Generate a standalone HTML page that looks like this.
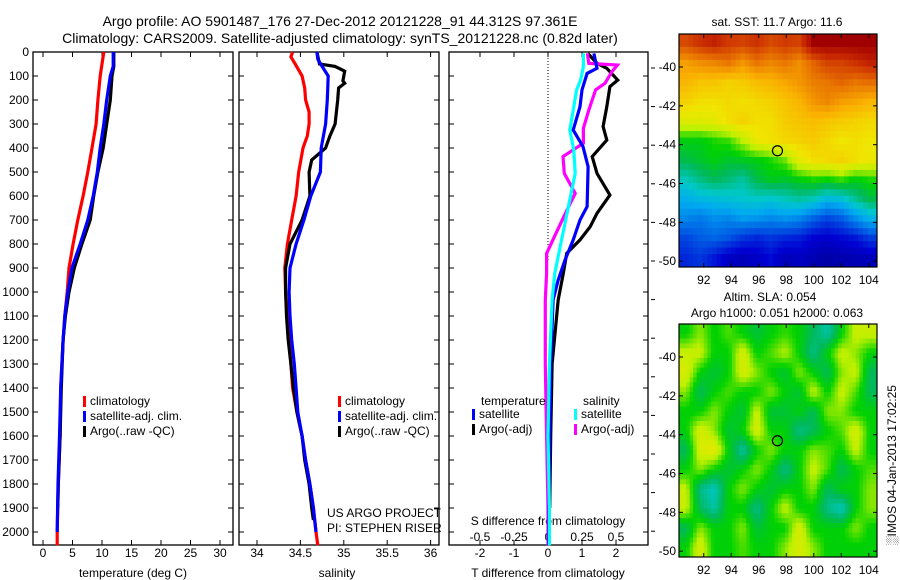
<!DOCTYPE html>
<html><head><meta charset="utf-8"><style>
body{margin:0;background:#fff;}
svg{display:block;font-family:"Liberation Sans",sans-serif;}
text{fill:#000;}
</style></head><body>
<svg id="fig" width="900" height="580" viewBox="0 0 900 580" xmlns="http://www.w3.org/2000/svg">
<rect width="900" height="580" fill="#fff"/>
<text x="340" y="26" font-size="14" text-anchor="middle">Argo profile: AO 5901487_176 27-Dec-2012 20121228_91 44.312S 97.361E</text>
<text x="340" y="43" font-size="14" text-anchor="middle">Climatology: CARS2009. Satellite-adjusted climatology: synTS_20121228.nc (0.82d later)</text>
<g id="maps"></g>
<g id="panels"></g>
</svg>
<script>
// ---------- DATA ----------
const depthTicks=[0,100,200,300,400,500,600,700,800,900,1000,1100,1200,1300,1400,1500,1600,1700,1800,1900,2000];
const tempTicks=[0,5,10,15,20,25,30];
const salTicks=[34,34.5,35,35.5,36];
const tdiffTicks=[-2,-1,0,1,2];
const sdiffTicks=[-0.5,-0.25,0,0.25,0.5];
const sdiffLabels=["-0.5","-0.25","0","0.25","0.5"];

const tClimDepth=[0,100,200,300,400,500,600,700,800,900,1000,1100,1200,1300,1400,1600,1800,2000,2055];
const tClimVal=[10.3,9.7,9.3,9.0,8.3,7.6,6.8,5.9,5.1,4.4,4.1,3.7,3.4,3.2,3.0,2.9,2.6,2.4,2.4];
const tSatDepth=[0,60,100,200,300,400,500,600,700,800,900,1000,1100,1200,1400,1600,1800,2000];
const tSatVal=[11.9,11.9,11.4,10.8,10.3,9.7,9.2,8.5,7.6,6.3,4.9,4.2,3.7,3.4,3.0,2.8,2.55,2.4];
const tArgoDepth=[0,60,100,200,300,400,500,600,700,800,900,1000,1100,1200,1400,1600,1800,1900];
const tArgoVal=[12.0,12.0,11.7,11.4,10.8,10.2,9.3,8.6,8.0,6.6,5.3,4.4,3.8,3.4,3.1,2.9,2.6,2.5];

const sClimDepth=[0,20,50,100,150,200,250,300,350,400,500,600,700,800,900,1000,1100,1200,1300,1400,1500,1600,1700,1800,1900,2000,2055];
const sClimVal=[34.41,34.39,34.44,34.52,34.55,34.56,34.60,34.60,34.58,34.53,34.48,34.45,34.40,34.35,34.32,34.33,34.35,34.37,34.39,34.41,34.46,34.52,34.56,34.61,34.65,34.68,34.70];
const sSatDepth=[0,30,60,100,200,300,400,500,600,700,800,900,1000,1100,1200,1300,1400,1500,1600,1700,1800,1900,2000];
const sSatVal=[34.69,34.70,34.75,34.82,34.81,34.79,34.74,34.73,34.62,34.54,34.45,34.38,34.37,34.38,34.40,34.43,34.45,34.47,34.52,34.56,34.61,34.65,34.68];
const sArgoDepth=[0,50,60,80,120,130,150,200,300,350,400,450,500,600,700,800,900,1000,1100,1200,1300,1400,1500,1600,1700,1800,1900,1950];
const sArgoVal=[34.69,34.72,34.90,35.01,34.99,35.01,34.94,34.93,34.90,34.84,34.79,34.63,34.60,34.61,34.52,34.38,34.33,34.33,34.34,34.36,34.39,34.42,34.46,34.52,34.55,34.60,34.63,34.65];

const dTSatDepth=[6,68,89,158,228,325,394,478,644,700,783,867,950,1033,1300,1600,1900,2055];
const dTSatVal=[1.35,1.44,1.15,1.0,0.94,0.74,1.03,1.18,1.15,0.94,0.74,0.5,0.3,0.15,0.08,0.05,0.03,0.02];
const dTArgoDepth=[6,47,68,117,144,228,311,367,436,506,596,672,728,783,839,922,1033,1300,1600,1900];
const dTArgoVal=[1.17,1.44,1.73,2.05,1.82,1.73,1.62,1.73,1.3,1.44,1.82,1.44,1.24,0.94,0.55,0.45,0.3,0.12,0.08,0.05];
const dSSatDepth=[6,61,117,158,228,325,408,506,644,728,811,922,1033,1300,1600,1900,2055];
const dSSatVal=[0.26,0.26,0.24,0.21,0.19,0.16,0.19,0.2,0.15,0.12,0.09,0.05,0.03,0.01,0.0,0.01,0.01];
const dSArgoDepth=[6,47,54,82,130,158,242,318,380,436,506,589,658,742,839,922,1033,1300,1600,1900,2055];
const dSArgoVal=[0.29,0.30,0.51,0.47,0.42,0.35,0.30,0.26,0.26,0.11,0.12,0.20,0.14,0.07,-0.01,-0.01,-0.02,-0.02,-0.01,0.0,0.0];

const lonTicks=[92,94,96,98,100,102,104];
const latTicks=[-40,-42,-44,-46,-48,-50];
const sstGrid=[
[14.5,14.8,15,14.7,14.6,14.8,14.5,14.7,14.6,15.5,15.5,15.5,15.5,15.5],
[13.5,13.7,13.8,14,13.6,14,13.8,14,13.7,14.2,14.6,14.6,14.8,15],
[13.2,13.0,13.0,12.8,12.9,13.1,13.2,13.4,13.6,13.9,14.0,14.2,14.0,14.1],
[12.8,12.6,12.6,12.7,12.6,12.7,12.8,13.0,13.2,13.6,13.8,13.5,13.4,13.2],
[12.2,12.2,12.3,12.6,12.8,12.6,12.6,12.9,13.0,13.1,13.0,12.9,12.8,12.7],
[11.0,11.0,11.2,11.3,11.8,12.4,12.6,12.7,12.8,12.9,12.7,12.5,12.6,12.5],
[10.6,10.8,11.0,10.8,10.9,11.0,11.2,11.5,12.3,12.6,12.7,12.8,12.6,12.4],
[9.8,10.2,10.5,10.3,10.0,10.6,10.9,10.8,11.0,11.2,11.1,11.3,11.0,11.2],
[9.1,9.3,9.4,9.5,9.6,9.7,9.6,9.8,10.0,9.8,9.3,9.5,10.1,10.6],
[8.5,8.3,8.6,8.5,8.8,8.7,8.5,8.7,8.5,8.0,7.6,7.9,8.6,9.2],
[7.6,7.9,8.0,7.8,7.4,7.2,7.4,7.2,7.1,6.7,6.6,6.8,7.0,7.5],
[7.2,7.4,7.0,6.5,6.3,6.5,6.8,6.3,6.4,6.2,6.0,6.1,6.2,6.3]];
const slaGrid=[
[0,5,0,3,0,-3,0,2,0,-5,-10,0,8,8],
[8,8,0,0,10,0,3,7,0,-8,0,8,5,0],
[10,0,-3,0,10,5,0,-3,5,0,-5,5,8,-5],
[5,-5,0,3,0,0,5,0,-3,8,0,8,3,-5],
[0,0,5,0,-3,8,-3,-3,0,-5,5,5,0,0],
[0,10,5,-3,0,10,0,0,-8,-5,0,3,10,0],
[-5,10,12,0,-10,0,5,0,0,5,3,0,8,0],
[0,5,0,-3,0,5,0,-8,0,8,3,-5,0,3],
[8,-8,-12,0,5,0,-3,0,0,5,-5,0,0,5],
[8,-5,-10,0,0,-8,0,8,0,0,-8,-12,0,5],
[-5,5,0,0,5,-3,0,0,10,0,0,0,5,0],
[0,10,0,0,3,0,0,5,10,5,0,0,0,0]];
const argoLon=97.361, argoLat=-44.312;

// ---------- HELPERS ----------
const NS="http://www.w3.org/2000/svg";
function mk(tag,attrs,parent,txt){const e=document.createElementNS(NS,tag);for(const k in attrs)e.setAttribute(k,attrs[k]);if(txt!==undefined)e.textContent=txt;parent.appendChild(e);return e;}
const P=document.getElementById('panels');
const TOP=52,BOT=545;
const yD=d=>TOP+d*0.24;
const xT=v=>43+5.9*v;
const xS=v=>257+86.8*(v-34);
const xDT=v=>548+34*v;
const xDS=v=>548+136*v;
function line(depths,vals,xf,color,name,w){
  const pts=depths.map((d,i)=>xf(vals[i]).toFixed(1)+","+yD(d).toFixed(1)).join(" ");
  const el=mk('polyline',{points:pts,fill:'none',stroke:color,'stroke-width':w||3.2,'stroke-linejoin':'miter'},P);
  
  
}
function frame(x0,x1,name){
  const r=mk('rect',{x:x0,y:TOP,width:x1-x0,height:BOT-TOP,fill:'none',stroke:'#000','stroke-width':1.3},P);
  
  
  depthTicks.forEach(d=>{mk('line',{x1:x0,x2:x0+5,y1:yD(d),y2:yD(d),stroke:'#000'},P);mk('line',{x1:x1-5,x2:x1,y1:yD(d),y2:yD(d),stroke:'#000'},P);});
}
function xticks(ticks,labels,xf,y,name){
  ticks.forEach((t,i)=>{
    mk('line',{x1:xf(t),x2:xf(t),y1:TOP,y2:TOP+5,stroke:'#000'},P);
    mk('line',{x1:xf(t),x2:xf(t),y1:BOT-5,y2:BOT,stroke:'#000'},P);
    const tx=mk('text',{x:xf(t),y:y,'font-size':12,'text-anchor':'middle'},P,labels[i]);
    
    
  });
}
function legend(x,y,items){
  items.forEach((it,i)=>{
    mk('rect',{x:x,y:y+i*15-9,width:3,height:11,fill:it[1]},P);
    const t=mk('text',{x:x+7,y:y+i*15,'font-size':12},P,it[0]);
    
    
  });
}

// ---------- PANEL 1: temperature ----------
frame(33,233,'temperature-panel');
depthTicks.forEach(d=>{const t=mk('text',{x:29,y:yD(d)+4,'font-size':12,'text-anchor':'end'},P,String(d));
  
  });
xticks(tempTicks,tempTicks.map(String),xT,557,'temperature');
mk('text',{x:133,y:577,'font-size':12,'text-anchor':'middle',},P,'temperature (deg C)');
line(tClimDepth,tClimVal,xT,'#f00','temp-climatology-line');
line(tArgoDepth,tArgoVal,xT,'#000','temp-argo-line');
line(tSatDepth,tSatVal,xT,'#00f','temp-satellite-line');
legend(83,405,[['climatology','#f00'],['satellite-adj. clim.','#00f'],['Argo(..raw -QC)','#000']]);

// ---------- PANEL 2: salinity ----------
frame(239,439,'salinity-panel');
xticks(salTicks,salTicks.map(String),xS,557,'salinity');
mk('text',{x:337,y:577,'font-size':12,'text-anchor':'middle',},P,'salinity');
line(sClimDepth,sClimVal,xS,'#f00','sal-climatology-line');
line(sArgoDepth,sArgoVal,xS,'#000','sal-argo-line');
line(sSatDepth,sSatVal,xS,'#00f','sal-satellite-line');
legend(338,405,[['climatology','#f00'],['satellite-adj. clim.','#00f'],['Argo(..raw -QC)','#000']]);
mk('text',{x:327,y:517,'font-size':12,},P,'US ARGO PROJECT');
mk('text',{x:327,y:532,'font-size':12,},P,'PI: STEPHEN RISER');

// ---------- PANEL 3: differences ----------
frame(449,648,'difference-panel');
mk('line',{x1:548,x2:548,y1:TOP,y2:260,stroke:'#000','stroke-dasharray':'1,2'},P);
xticks(tdiffTicks,tdiffTicks.map(String),xDT,557,'t-difference');
sdiffTicks.forEach((t,i)=>{const tx=mk('text',{x:xDS(t),y:541,'font-size':12,'text-anchor':'middle'},P,sdiffLabels[i]);
  
  });
mk('text',{x:548,y:525,'font-size':12,'text-anchor':'middle',},P,'S difference from climatology');
mk('text',{x:548,y:577,'font-size':12,'text-anchor':'middle',},P,'T difference from climatology');
for(let y=68;y<540;y+=38.6){mk('line',{x1:651,x2:655,y1:y,y2:y,stroke:'#000'},P);}
line(dTArgoDepth,dTArgoVal,xDT,'#000','tdiff-argo-line');
line(dSArgoDepth,dSArgoVal,xDS,'#f0f','sdiff-argo-line');
line(dTSatDepth,dTSatVal,xDT,'#00f','tdiff-satellite-line');
line(dSSatDepth,dSSatVal,xDS,'#0ff','sdiff-satellite-line');
mk('text',{x:481,y:405,'font-size':12,},P,'temperature');
mk('text',{x:583,y:405,'font-size':12,},P,'salinity');
legend(472,418,[['satellite','#00f'],['Argo(-adj)','#000']]);
legend(574,418,[['satellite','#0ff'],['Argo(-adj)','#f0f']]);

// ---------- MAPS ----------
const M=document.getElementById('maps');
const stops=[[0,[0,0,140]],[0.12,[0,0,210]],[0.25,[0,100,230]],[0.35,[0,170,240]],[0.42,[0,200,200]],[0.5,[0,185,90]],[0.56,[0,210,0]],[0.63,[190,240,0]],[0.7,[240,230,0]],[0.78,[250,175,0]],[0.86,[230,110,0]],[0.94,[200,40,0]],[1,[160,0,0]]];
function cmap(t){t=Math.max(0,Math.min(1,t));for(let i=1;i<stops.length;i++){if(t<=stops[i][0]){const a=stops[i-1],b=stops[i],f=(t-a[0])/(b[0]-a[0]);const c=a[1].map((v,k)=>Math.round(v+(b[1][k]-v)*f));return 'rgb('+c.join(',')+')';}}return 'rgb(160,0,0)';}
function sample(grid,fr,fc){
  const R=grid.length,C=grid[0].length;
  const r=Math.max(0,Math.min(R-1,fr)),c=Math.max(0,Math.min(C-1,fc));
  const r0=Math.floor(r),c0=Math.floor(c),r1=Math.min(R-1,r0+1),c1=Math.min(C-1,c0+1);
  const a=r-r0,b=c-c0;
  return grid[r0][c0]*(1-a)*(1-b)+grid[r0][c1]*(1-a)*b+grid[r1][c0]*a*(1-b)+grid[r1][c1]*a*b;
}
const lonMin=90.2,lonMax=104.6,latTop=-38.3,latBot=-50.3;
function drawMap(y0,y1,grid,tf,name,up){
  const x0=679,x1=877;
  const xl=l=>x0+(l-lonMin)/(lonMax-lonMin)*(x1-x0);
  const yl=l=>y0+(latTop-l)/(latTop-latBot)*(y1-y0);
  const g=mk('g',{},M);
  
  
  const rows=grid.length*up,cols=grid[0].length*up;
  const cw=(x1-x0)/cols,ch=(y1-y0)/rows;
  for(let r=0;r<rows;r++)for(let c=0;c<cols;c++){
    const v=sample(grid,(r+0.5)/up-0.5,(c+0.5)/up-0.5);
    const cell=mk('rect',{x:(x0+c*cw).toFixed(2),y:(y0+r*ch).toFixed(2),width:(cw+0.5).toFixed(2),height:(ch+0.5).toFixed(2),fill:cmap(tf(v))},g);
    
    
  }
  mk('rect',{x:x0,y:y0,width:x1-x0,height:y1-y0,fill:'none',stroke:'#000','stroke-width':1.2},g);
  latTicks.forEach(l=>{mk('line',{x1:x0,x2:x0+4,y1:yl(l),y2:yl(l),stroke:'#000'},g);mk('line',{x1:x1-4,x2:x1,y1:yl(l),y2:yl(l),stroke:'#000'},g);
    const t=mk('text',{x:x0-3,y:yl(l)+4,'font-size':12,'text-anchor':'end'},g,String(l));
    
    });
  lonTicks.forEach(l=>{mk('line',{x1:xl(l),x2:xl(l),y1:y0,y2:y0+4,stroke:'#000'},g);mk('line',{x1:xl(l),x2:xl(l),y1:y1-4,y2:y1,stroke:'#000'},g);
    const t=mk('text',{x:xl(l),y:y1+17,'font-size':12,'text-anchor':'middle'},g,String(l));
    
    });
  const c=mk('circle',{cx:xl(argoLon),cy:yl(argoLat),r:5,fill:'none',stroke:'#000','stroke-width':1.2},g);
  
  
}
drawMap(34,267,sstGrid,v=>(v-5.5)/10,'sst-map',3);
drawMap(324,557,slaGrid,v=>0.555+v*0.011,'sla-map',4);
mk('text',{x:777,y:26,'font-size':12,'text-anchor':'middle',},M,'sat. SST: 11.7 Argo: 11.6');
mk('text',{x:770,y:301,'font-size':12,'text-anchor':'middle',},M,'Altim. SLA: 0.054');
mk('text',{x:777,y:317,'font-size':12,'text-anchor':'middle',},M,'Argo h1000: 0.051 h2000: 0.063');
mk('text',{x:0,y:0,'font-size':12,'text-anchor':'start',transform:'translate(896,545) rotate(-90)',},M,'\u2591IMOS 04-Jan-2013 17:02:25');
</script>
</body></html>
